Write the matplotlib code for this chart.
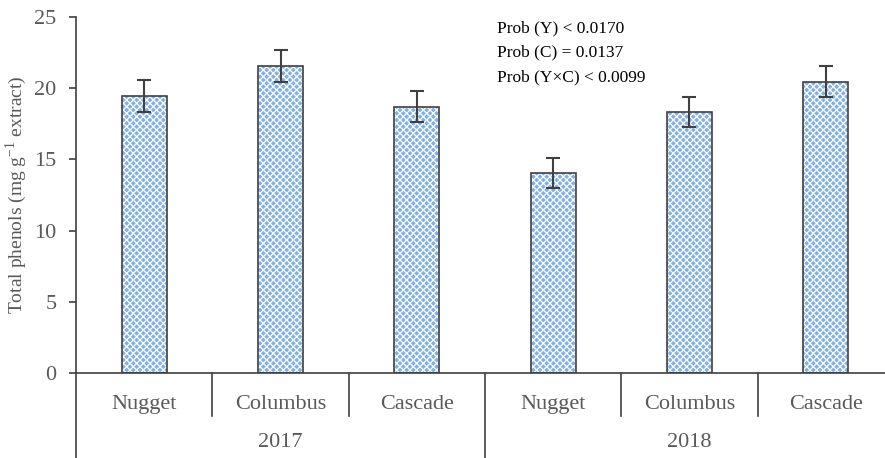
import matplotlib.pyplot as plt
import numpy as np

# Total phenols by cultivar and year
years = ['2017', '2018']
cultivars = ['Nugget', 'Columbus', 'Cascade']
phenols = [19.45, 21.55, 18.7, 14.05, 18.3, 20.45]
errors = [1.1, 1.1, 1.1, 1.05, 1.05, 1.1]
stats_text = ['Prob (Y) < 0.0170', 'Prob (C) = 0.0137', 'Prob (Y\u00d7C) < 0.0099']

plt.rcParams['font.family'] = ['Liberation Serif', 'DejaVu Serif']
plt.rcParams['mathtext.fontset'] = 'custom'
plt.rcParams['mathtext.rm'] = 'Liberation Serif'
plt.rcParams['hatch.linewidth'] = 0.9
grey = '#595959'
dark = '#404040'

fig = plt.figure(figsize=(8.85, 4.58), dpi=100)
# axis extends past the right edge of the figure
ax = fig.add_axes([76 / 885, 1 - 373 / 458, 818 / 885, 356 / 458])

n = len(phenols)
x = np.arange(n)
# hatched fill first, then outline
ax.bar(x, phenols, width=0.33, color='#80b0e4', edgecolor='white', hatch='xxxxx', linewidth=0, zorder=2)
ax.bar(x, phenols, width=0.33, fill=False, edgecolor=dark, linewidth=1.2, zorder=3)
ax.errorbar(x, phenols, yerr=errors, fmt='none', ecolor=dark, elinewidth=1.5, capsize=5, capthick=1.5, zorder=4)

ax.set_xlim(-0.5, n - 0.5)
ax.set_ylim(0, 25)
ax.set_yticks(range(0, 26, 5))
ax.tick_params(axis='y', labelsize=16, colors=dark, labelcolor=grey, length=5, width=1.2,
               direction='out', pad=9)
ax.tick_params(axis='x', bottom=False, labelbottom=False)
for side in ['top', 'right']:
    ax.spines[side].set_visible(False)
ax.spines['left'].set_color(dark)
ax.spines['left'].set_linewidth(1.2)
ax.spines['left'].set_bounds(0, 25)
ax.spines['bottom'].set_color(dark)
ax.spines['bottom'].set_linewidth(1.2)

ax.set_ylabel(r'Total phenols (mg g$^{\mathrm{-1}}$ extract)', fontsize=14, color=grey)
ax.yaxis.set_label_coords(-0.058, 0.5)

# two-level category axis below the plot
trans = ax.get_xaxis_transform()
for i in range(n):
    ax.text(x[i], -0.088, cultivars[i % 3], transform=trans, ha='center', va='center', fontsize=16, color=grey)
for j, yr in enumerate(years):
    ax.text(j * 3 + 1, -0.196, yr, transform=trans, ha='center', va='center', fontsize=16, color=grey)
for k in range(n + 1):
    bottom = -0.12 if k % 3 else -0.25
    ax.plot([k - 0.5, k - 0.5], [0, bottom], transform=trans, color=dark, lw=1.2, clip_on=False)

for i, line in enumerate(stats_text):
    fig.text(497 / 885, 1 - (28 + i * 24.5) / 458, line, ha='left', va='center', fontsize=12.5, color='black')

fig.savefig('out.png', dpi=100)
